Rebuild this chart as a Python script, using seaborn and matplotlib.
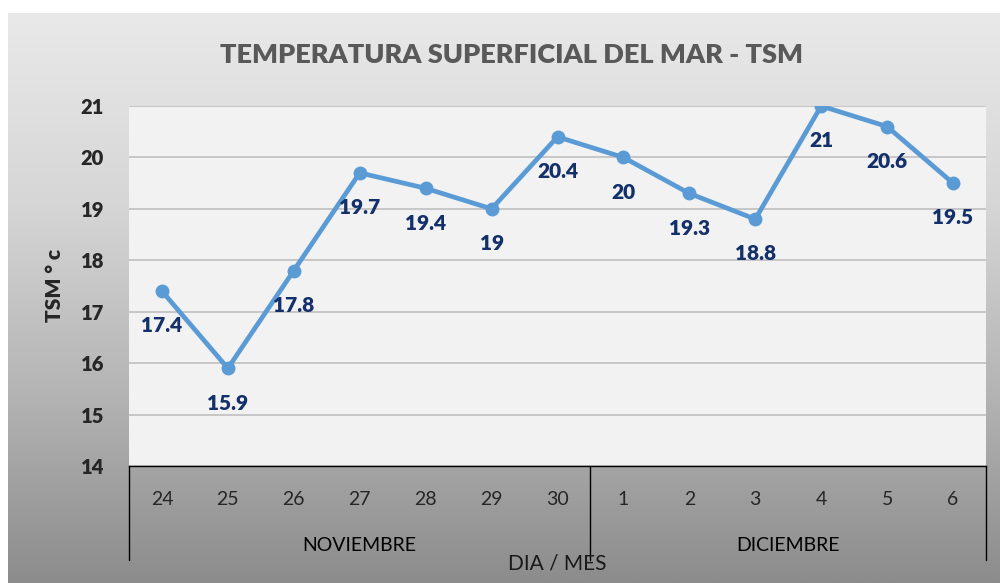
import numpy as np
import pandas as pd
import matplotlib
matplotlib.use("Agg")
import matplotlib.pyplot as plt
import matplotlib.transforms as mtransforms
from matplotlib.colors import LinearSegmentedColormap
import seaborn as sns

# ===================== DATA =====================
dias = ["24", "25", "26", "27", "28", "29", "30", "1", "2", "3", "4", "5", "6"]
meses = ["NOVIEMBRE"] * 7 + ["DICIEMBRE"] * 6
tsm = [17.4, 15.9, 17.8, 19.7, 19.4, 19.0, 20.4, 20.0, 19.3, 18.8, 21.0, 20.6, 19.5]
etiquetas = ["17.4", "15.9", "17.8", "19.7", "19.4", "19", "20.4", "20", "19.3", "18.8", "21", "20.6", "19.5"]
y_ticks = [14, 15, 16, 17, 18, 19, 20, 21]

df = pd.DataFrame({"pos": np.arange(len(dias)), "dia": dias, "mes": meses, "tsm": tsm})

# ===================== STYLE =====================
sns.set_style("white")
plt.rcParams["font.family"] = ["Lato", "DejaVu Sans"]

fig = plt.figure(figsize=(10, 5.83), dpi=100)
fig.patch.set_facecolor("white")

# gradient chart background
bg = fig.add_axes([0.008, 0.0, 0.992, 1 - 13 / 583], zorder=-10)
cmap = LinearSegmentedColormap.from_list("bg", ["#e9e9e9", "#d6d6d6", "#b4b4b4", "#8c8c8c"])
grad = np.linspace(0, 1, 256).reshape(-1, 1)
bg.imshow(grad, aspect="auto", cmap=cmap, extent=[0, 1, 0, 1], origin="upper")
bg.set_axis_off()

ax = fig.add_axes([0.129, 1 - 466 / 583, 0.857, 360 / 583])
ax.set_facecolor("#f2f2f2")

sns.lineplot(data=df, x="pos", y="tsm", ax=ax, color="#5b9bd5", linewidth=3.4,
             marker="o", markersize=10, markeredgewidth=0, zorder=3)

for x, y, lab in zip(df["pos"], df["tsm"], etiquetas):
    ax.annotate(lab, (x, y), xytext=(0, -25), textcoords="offset points",
                ha="center", va="center", fontsize=15, fontweight="heavy",
                color="#14306a", zorder=4)

ax.set_xlim(-0.5, len(dias) - 0.5)
ax.set_ylim(14, 21)
ax.set_yticks(y_ticks)
ax.set_yticklabels([str(t) for t in y_ticks], fontsize=14.5, fontweight="heavy")
ax.grid(axis="y", color="#bfbfbf", linewidth=1.2)
ax.set_axisbelow(True)
ax.tick_params(axis="y", length=0, pad=18)

ax.set_xticks(df["pos"])
ax.set_xticklabels(dias, fontsize=14)
ax.tick_params(axis="x", length=0, pad=18)
ax.set_xlabel("")
ax.set_ylabel("TSM ° c", fontsize=15, fontweight="heavy", labelpad=12)

for s in ["top", "left", "right"]:
    ax.spines[s].set_visible(False)
ax.spines["bottom"].set_color("black")
ax.spines["bottom"].set_linewidth(1)

# month group separators and labels
trans = mtransforms.blended_transform_factory(ax.transData, ax.transAxes)
for xs in [-0.5, 6.5, len(dias) - 0.5]:
    ax.plot([xs, xs], [0, -0.26], color="black", linewidth=1, transform=trans, clip_on=False)
for mes in ["NOVIEMBRE", "DICIEMBRE"]:
    pos = df.loc[df["mes"] == mes, "pos"]
    ax.text((pos.min() + pos.max()) / 2, -0.22, mes, transform=trans,
            ha="center", va="center", fontsize=14, color="black")

fig.text(0.557, 1 - 563 / 583, "DIA / MES", ha="center", va="center", fontsize=15, color="#1a1a1a")
fig.text(0.512, 1 - 55 / 583, "TEMPERATURA SUPERFICIAL DEL MAR - TSM",
         ha="center", va="center", fontsize=19.5, fontweight="heavy", color="#595959")

fig.savefig("out.png", dpi=100)
